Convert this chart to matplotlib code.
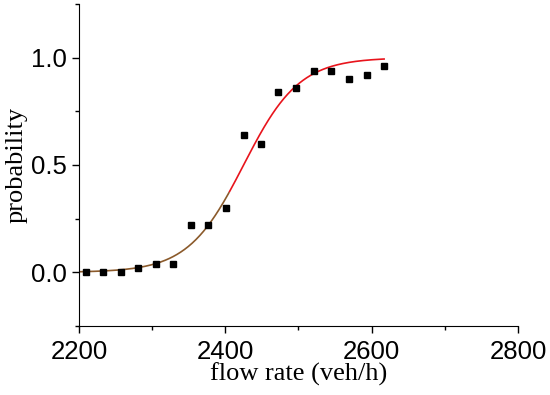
import numpy as np
import matplotlib
matplotlib.use("Agg")
import matplotlib.pyplot as plt

flow = [2209, 2233, 2257, 2281, 2305, 2328, 2353, 2377, 2401,
        2425, 2449, 2472, 2497, 2521, 2545, 2569, 2593, 2617]
prob = [0.00, 0.00, 0.00, 0.02, 0.04, 0.04, 0.22, 0.22, 0.30,
        0.64, 0.60, 0.84, 0.86, 0.94, 0.94, 0.90, 0.92, 0.96]

# Boltzmann fit parameters (estimated from the drawn curve)
A1, A2, X0, DX = 0.0, 1.0, 2425.0, 38.0
FIT_X = (2200, 2617)
SPLIT_X = 2405          # curve colour changes from brown to red here

fig = plt.figure(figsize=(5.5, 3.95), dpi=100)
ax = fig.add_axes([0.1436, 0.1747, 0.7982, 0.8152])

xf = np.linspace(FIT_X[0], FIT_X[1], 400)
yf = A2 + (A1 - A2) / (1 + np.exp((xf - X0) / DX))
lo = xf <= SPLIT_X
ax.plot(xf[lo], yf[lo], color="#8B5A2B", lw=1.2, zorder=2)
ax.plot(xf[~lo], yf[~lo], color="#E8141C", lw=1.2, zorder=2)
ax.plot(flow, prob, "s", color="black", ms=5, zorder=3)

ax.set_xlim(2200, 2800)
ax.set_ylim(-0.25, 1.25)
ax.set_xticks([2200, 2400, 2600, 2800])
ax.set_xticks([2300, 2500, 2700], minor=True)
ax.set_yticks([0.0, 0.5, 1.0])
ax.set_yticks([-0.25, 0.25, 0.75, 1.25], minor=True)
ax.set_yticklabels(["0.0", "0.5", "1.0"])
for s in ("top", "right"):
    ax.spines[s].set_visible(False)
ax.tick_params(which="major", direction="out", length=5, width=1,
               labelsize=18.5)
ax.tick_params(axis="x", which="major", pad=5)
ax.tick_params(axis="y", which="major", pad=4)
ax.tick_params(which="minor", direction="out", length=3, width=1)
for lab in ax.get_xticklabels() + ax.get_yticklabels():
    lab.set_family("Liberation Sans")

ax.set_xlabel("flow rate (veh/h)", family="Liberation Serif", fontsize=19,
              labelpad=-1)
ax.set_ylabel("probability", family="Liberation Serif", fontsize=19,
              labelpad=2.5)

fig.savefig("out.png", dpi=100)
